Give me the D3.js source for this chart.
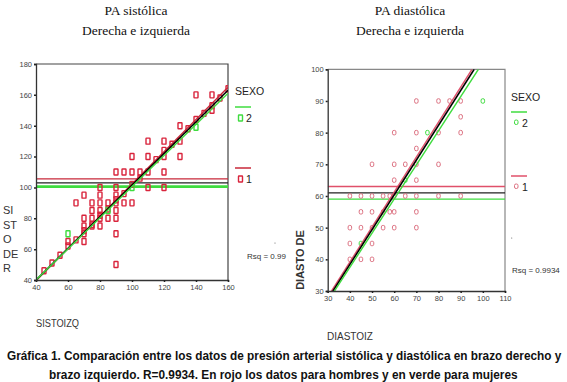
<!DOCTYPE html>
<html>
<head>
<meta charset="utf-8">
<script src="https://cdn.jsdelivr.net/npm/d3@7"></script>
<style>
  body { margin: 0; background: #fff; }
  text { font-family: "Liberation Sans", Arial, sans-serif; }
</style>
</head>
<body>
<div id="chart"></div>
<script>
// PA sistólica: puntos [izq, der] por sexo
const sisHombres = [
  [140,160],[150,160],[150,150],[130,140],[130,130],[130,120],[110,130],[120,130],
  [100,120],[110,120],[120,120],[110,110],[120,110],[90,110],[95,110],[100,110],[105,110],
  [80,100],[90,100],[110,100],[120,100],[70,95],[80,95],[90,95],
  [65,90],[75,90],[80,90],[85,90],[90,90],[95,90],[100,90],
  [75,85],[80,85],[90,85],[70,80],[75,80],[80,80],[85,80],[90,80],
  [70,75],[75,75],[80,75],[70,70],[90,70],[60,65],[70,65],[90,50],
  [45,46],[50,51],[55,56],[60,62],[65,66],[70,72],[75,76],[80,82],[85,86],[90,92],
  [95,96],[100,102],[105,106],[115,118],[120,124],[125,128],[135,138],[140,144],
  [145,148],[150,153],[155,158],[160,164]
];
const sisMujeres = [[60,70],[140,139],[100,100],[85,85]];
const sisMedias = [105.5, 103, 100.5];          // sexo 1, total, sexo 2
const sisAjustes = [
  { key: "1", x: [40, 160], y: [39.5, 165] },
  { key: "total", x: [40, 160], y: [40, 163] },
  { key: "2", x: [40, 160], y: [40, 161] }
];
const sisTicksX = [40, 60, 80, 100, 120, 140, 160];
const sisTicksY = [40, 60, 80, 100, 120, 140, 160, 180];

// PA diastólica
const diaHombres = [
  [70,90],[80,90],[85,90],[90,90],[90,85],[60,80],[70,80],[80,80],[90,80],[70,75],
  [50,70],[60,70],[65,70],[70,70],[80,70],[60,65],[70,65],
  [40,60],[45,60],[50,60],[55,60],[58,60],[60,60],[65,60],[70,60],[80,60],[90,60],
  [45,55],[50,55],[55,55],[58,55],[60,55],[70,55],
  [40,50],[45,50],[50,50],[55,50],[60,50],[70,50],
  [40,45],[50,45],[40,40],[45,40],[50,40]
];
const diaMujeres = [[100,90],[75,80],[65,65],[45,45]];
const diaMedias = [63, 61, 59];
const diaAjustes = [
  { key: "1", x: [30, 95.1], y: [28.1, 100] },
  { key: "total", x: [30, 96.1], y: [27.4, 100] },
  { key: "2", x: [30, 98], y: [26.7, 100] }
];
const diaTicksX = [30, 40, 50, 60, 70, 80, 90, 100, 110];
const diaTicksY = [30, 40, 50, 60, 70, 80, 90, 100];

const caption = [
  "Gráfica 1. Comparación entre los datos de presión arterial sistólica y diastólica en brazo derecho y",
  "brazo izquierdo. R=0.9934. En rojo los datos para hombres y en verde para mujeres"
];
const captionWidths = [555, 469];

const width = 567, height = 382;
const rojo = "#d9243c", verde = "#3fdc3f";

const svg = d3.select("#chart").append("svg")
  .attr("width", width).attr("height", height)
  .style("background", "#fff");

// texto estrecho: escala horizontal hasta el ancho deseado
function narrow(sel, x, y, w) {
  const n = sel.node().getComputedTextLength();
  const s = Math.min(1, w / n);
  sel.attr("transform", `translate(${x},${y}) scale(${s},1)`);
}

function panel(cfg) {
  const x = d3.scaleLinear().domain(cfg.domX).range(cfg.rangeX);
  const y = d3.scaleLinear().domain(cfg.domY).range(cfg.rangeY);
  const g = svg.append("g");
  const clipId = "clip" + cfg.id;
  svg.append("clipPath").attr("id", clipId).append("rect")
    .attr("x", cfg.rangeX[0]).attr("y", cfg.rangeY[1])
    .attr("width", cfg.rangeX[1] - cfg.rangeX[0])
    .attr("height", cfg.rangeY[0] - cfg.rangeY[1]);

  // marco
  g.append("path")
    .attr("d", `M${cfg.rangeX[0]},${cfg.rangeY[1]}H${cfg.rangeX[1]}V${cfg.rangeY[0]}`)
    .attr("fill", "none").attr("stroke", cfg.frame).attr("stroke-width", 1.2);

  const plot = g.append("g").attr("clip-path", `url(#${clipId})`);

  // lineas horizontales (medias)
  const colHz = [cfg.rojoL, "#222", verde];
  plot.selectAll("line.h").data(cfg.medias).join("line")
    .attr("x1", cfg.rangeX[0]).attr("x2", cfg.rangeX[1])
    .attr("y1", d => y(d)).attr("y2", d => y(d))
    .attr("stroke", (d, i) => colHz[i])
    .attr("stroke-width", (d, i) => i === 2 ? cfg.greenW : 1.3);

  // puntos
  const pts = cfg.hombres.map(d => ({ d, c: cfg.ptRojo }))
    .concat(cfg.mujeres.map(d => ({ d, c: verde })));
  plot.selectAll("rect.p").data(pts).join("rect")
    .attr("x", p => x(p.d[0]) - cfg.pw / 2)
    .attr("y", p => y(p.d[1]) - cfg.ph / 2)
    .attr("width", cfg.pw).attr("height", cfg.ph)
    .attr("rx", cfg.prx)
    .attr("fill", "none").attr("stroke", p => p.c).attr("stroke-width", cfg.pstroke);

  // rectas de ajuste
  const colFit = { "1": cfg.rojoL, "total": "#000", "2": verde };
  const line = d3.line().x(d => x(d[0])).y(d => y(d[1]));
  plot.selectAll("path.fit").data(cfg.ajustes).join("path")
    .attr("d", a => line([[a.x[0], a.y[0]], [a.x[1], a.y[1]]]))
    .attr("fill", "none").attr("stroke", a => colFit[a.key])
    .attr("stroke-width", a => a.key === "total" ? 1.6 : 1.4);

  // ejes
  const ax = g.append("g").attr("transform", `translate(0,${cfg.rangeY[0]})`)
    .call(d3.axisBottom(x).tickValues(cfg.ticksX).tickSize(2).tickPadding(3));
  const ay = g.append("g").attr("transform", `translate(${cfg.rangeX[0]},0)`)
    .call(d3.axisLeft(y).tickValues(cfg.ticksY).tickSize(2).tickPadding(2));
  [ax, ay].forEach(a => {
    a.select(".domain").attr("stroke", "#333").attr("stroke-width", 1.3);
    a.selectAll(".tick line").attr("stroke", "#222").attr("stroke-width", 1.5);
    a.selectAll(".tick text").attr("fill", "#444")
      .style("font-family", "'Liberation Sans', Arial, sans-serif")
      .style("font-size", "7.5px");
  });

  // leyenda
  const lg = svg.append("g").attr("transform", `translate(${cfg.legX},0)`);
  lg.append("text").attr("x", 0).attr("y", cfg.legY[0]).text("SEXO")
    .style("font-size", "10.5px").attr("fill", "#222");
  [[cfg.legY[1], verde, "2"], [cfg.legY[2], cfg.rojoL, "1"]].forEach(([ly, c, t]) => {
    lg.append("line").attr("x1", 0).attr("x2", 16).attr("y1", ly).attr("y2", ly)
      .attr("stroke", c).attr("stroke-width", 1.5);
    lg.append("rect").attr("x", 3.5).attr("y", ly + 8).attr("width", cfg.pw).attr("height", cfg.ph)
      .attr("rx", cfg.prx).attr("fill", "none").attr("stroke", t === "2" ? verde : cfg.ptRojo)
      .attr("stroke-width", cfg.pstroke);
    lg.append("text").attr("x", 11).attr("y", ly + 15).text(t)
      .style("font-size", "10.5px").attr("fill", "#222");
  });
  svg.append("text").attr("x", cfg.rsq[0]).attr("y", cfg.rsq[1]).text(cfg.rsqText)
    .style("font-size", "8px").attr("fill", "#333");
  svg.append("circle").attr("cx", cfg.dot[0]).attr("cy", cfg.dot[1]).attr("r", 0.6).attr("fill", "#666");

  // titulos
  const tt = svg.append("g").attr("text-anchor", "middle").attr("fill", "#111");
  [cfg.title, "Derecha e izquierda"].forEach((t, i) => {
    tt.append("text").attr("x", cfg.titleX).attr("y", 15 + i * 20).text(t)
      .style("font-family", "'Liberation Serif', 'Times New Roman', serif")
      .style("font-size", "13.5px");
  });
}

panel({
  id: "sis", domX: [40, 160], rangeX: [36, 228], domY: [40, 180], rangeY: [280, 64],
  hombres: sisHombres, mujeres: sisMujeres, medias: sisMedias, ajustes: sisAjustes,
  ticksX: sisTicksX, ticksY: sisTicksY, frame: "#444", rojoL: "#c8283a", ptRojo: rojo,
  greenW: 2.6, pw: 4, ph: 6, prx: 0.5, pstroke: 1.4,
  legX: 235, legY: [95, 107, 168], rsq: [247, 259], rsqText: "Rsq = 0.99", dot: [275, 243],
  titleX: 136, title: "PA sistólica"
});

panel({
  id: "dia", domX: [30, 110], rangeX: [327.7, 505], domY: [30, 100], rangeY: [291, 69.3],
  hombres: diaHombres, mujeres: diaMujeres, medias: diaMedias, ajustes: diaAjustes,
  ticksX: diaTicksX, ticksY: diaTicksY, frame: "#888", rojoL: "#e0506a", ptRojo: "#dc7080",
  greenW: 1.4, pw: 3.5, ph: 4.5, prx: 1.5, pstroke: 1,
  legX: 511, legY: [101, 112, 176], rsq: [512, 273], rsqText: "Rsq = 0.9934", dot: [511.7, 238],
  titleX: 410, title: "PA diastólica"
});

// titulos de ejes
const yl = svg.append("text").attr("fill", "#333").style("font-size", "11px");
["SI", "ST", "O", "DE", "R"].forEach((t, i) => {
  yl.append("tspan").attr("x", 3).attr("y", 214 + i * 14.5).text(t);
});
narrow(svg.append("text").text("SISTOIZQ").style("font-size", "11px").attr("fill", "#333"), 36, 327, 43);
svg.append("text").attr("transform", "translate(304,260) rotate(-90)")
  .attr("text-anchor", "middle").text("DIASTO DE")
  .style("font-size", "11px").style("font-weight", "bold").attr("fill", "#333");
narrow(svg.append("text").text("DIASTOIZ").style("font-size", "10px").attr("fill", "#333"), 327, 340, 46);

// pie de figura
svg.append("g").selectAll("text").data(caption).join("text")
  .style("font-size", "13.5px").style("font-weight", "bold").attr("fill", "#111")
  .text(d => d)
  .each(function (d, i) {
    const w = captionWidths[i];
    narrow(d3.select(this), width / 2 - w / 2 + (i === 0 ? 1 : 0), 360 + i * 19, w);
  });
</script>
</body>
</html>
